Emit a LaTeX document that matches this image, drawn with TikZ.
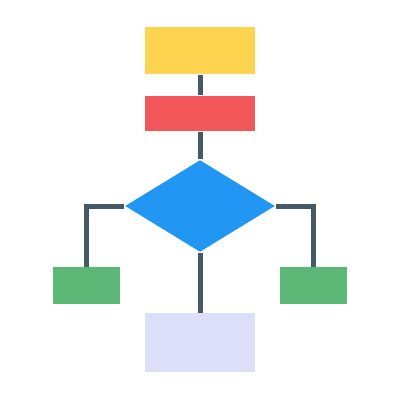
\documentclass[tikz,border=0pt]{standalone}
\usetikzlibrary{shapes.geometric}
\definecolor{cyellow}{HTML}{FDD44F}
\definecolor{cred}{HTML}{F2575A}
\definecolor{cblue}{HTML}{2196F3}
\definecolor{cgreen}{HTML}{5DB776}
\definecolor{clav}{HTML}{DCDEFA}
\definecolor{cline}{HTML}{455A64}
\begin{document}
\begin{tikzpicture}[x=0.01cm, y=-0.01cm]
\useasboundingbox (0,0) rectangle (400,400);
\node[rectangle, inner sep=0, minimum width=1.1cm, minimum height=0.47cm, fill=cyellow] (blk0) at (200,50.5){};
\node[rectangle, inner sep=0, minimum width=1.1cm, minimum height=0.35cm, fill=cred] (blk1) at (200,113.5){};
\node[diamond, inner sep=0, minimum width=1.5cm, minimum height=0.92cm, fill=cblue] (blk2) at (200,206){};
\node[rectangle, inner sep=0, minimum width=0.67cm, minimum height=0.36cm, fill=cgreen] (blk3) at (86.5,285.5){};
\node[rectangle, inner sep=0, minimum width=0.67cm, minimum height=0.36cm, fill=cgreen] (blk4) at (313.5,285.5){};
\node[rectangle, inner sep=0, minimum width=1.09cm, minimum height=0.58cm, fill=clav] (blk5) at (200,342.5){};
\draw[cline, line width=0.05cm](blk0) -- (blk1);
\draw[cline, line width=0.05cm](blk1) -- (blk2);
\draw[cline, line width=0.05cm](blk2.west) -| (blk3.north);
\draw[cline, line width=0.05cm](blk2.east) -| (blk4.north);
\draw[cline, line width=0.05cm](blk2) -- (blk5);
\end{tikzpicture}
\end{document}
